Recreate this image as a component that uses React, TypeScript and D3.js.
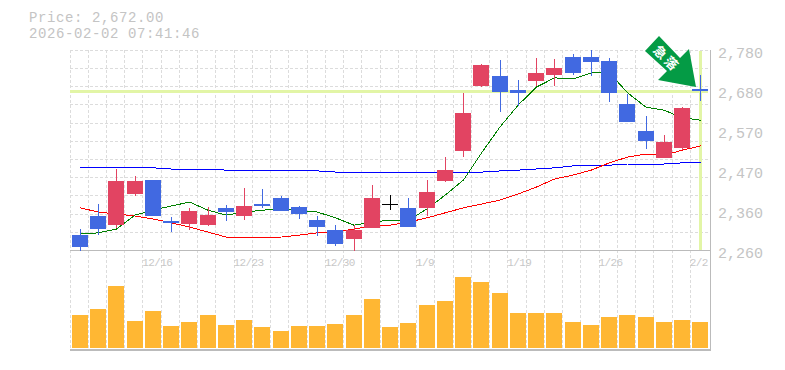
import React from "react";
import * as d3 from "d3";

const W = 785, H = 370;
const dateTicks: [number, string][] = [[4, "12/16"], [9, "12/23"], [14, "12/30"], [19, "1/9"], [24, "1/19"], [29, "1/26"], [34, "2/2"]];
const priceTicks = [2780, 2676, 2572, 2468, 2364, 2260];
const opens = [2296,2346,2322,2403,2439,2333,2325,2322,2367,2346,2377,2393,2369,2335,2309,2286,2315,2378,2367,2367,2437,2515,2684,2710,2673,2697,2712,2759,2759,2749,2637,2567,2497,2523,2675];
const closes = [2265,2312,2437,2437,2346,2328,2359,2348,2356,2372,2372,2359,2351,2317,2273,2309,2393,2378,2317,2408,2465,2614,2738,2668,2666,2718,2731,2718,2746,2666,2590,2541,2538,2627,2670];
const highs = [2312,2377,2468,2450,2439,2343,2367,2369,2374,2419,2416,2398,2372,2346,2322,2322,2426,2400,2393,2439,2499,2666,2741,2751,2699,2757,2754,2767,2777,2757,2663,2606,2556,2629,2712];
const lows = [2255,2296,2315,2398,2346,2304,2309,2320,2333,2335,2367,2359,2338,2294,2268,2255,2315,2361,2317,2346,2434,2499,2681,2616,2632,2684,2684,2712,2710,2642,2590,2520,2497,2517,2645];
const ma5 = [2299,2302,2312,2348,2361,2372,2382,2361,2348,2356,2361,2364,2361,2356,2341,2322,2330,2335,2335,2364,2400,2439,2510,2577,2634,2681,2705,2702,2718,2718,2666,2629,2621,2601,2595];
const ma25 = [2367,2356,2351,2346,2338,2328,2317,2304,2291,2289,2289,2291,2296,2302,2304,2312,2320,2322,2330,2341,2354,2367,2377,2387,2403,2421,2442,2452,2465,2484,2499,2507,2504,2517,2528];
const ma75 = [2473,2471,2471,2471,2471,2468,2468,2468,2465,2465,2465,2465,2463,2463,2460,2460,2458,2460,2458,2458,2458,2460,2460,2463,2465,2468,2471,2476,2478,2478,2481,2481,2481,2484,2484];
const volume = [33,39,62,27,37,22,26,33,23,28,21,17,22,22,24,33,49,21,25,43,47,71,66,55,35,35,35,26,23,31,33,31,26,28,26];

const x = d3.scaleLinear().domain([0, 35]).range([71, 709.75]);
const y = d3.scaleLinear().domain([2260, 2780]).range([249, 49]);
const vol = d3.scaleLinear().domain([0, 71]).range([348, 277]);
const line = d3.line<number>().x((_, i) => x(i + 0.5)).y((d) => y(d));
const barLeft = (i: number) => Math.round(x(i + 0.5) - 8.135);
const fmt = d3.format(",");
const BLUE = "#4169e1", RED = "#e24462";
const mono = "'Liberation Mono', monospace";

export default function App() {
  const vGrid = d3.range(0, 35).map((i) => Math.max(70, Math.floor(x(i) - 1.25 + 0.001)) + 0.5);
  const hGrid = d3.range(0, 11).map((i) => Math.floor(50.2 + i * 18.2) + 0.5);
  return (
    <svg width={W} height={H} style={{ position: "absolute", left: 0, top: 0, background: "#fff" }}>
      <g stroke="#dcdcdc" strokeDasharray="3 2" shapeRendering="crispEdges">
        {vGrid.map((v, i) => <line key={i} x1={v} x2={v} y1={50} y2={348} />)}
        {hGrid.map((v, i) => <line key={i} x1={70} x2={710} y1={v} y2={v} />)}
      </g>
      <g fill="#e2f5a6" shapeRendering="crispEdges">
        <rect x={70} y={90} width={638} height={3} />
        <rect x={699} y={51} width={3} height={199} />
      </g>
      <g stroke="#bbb" strokeWidth={1} shapeRendering="crispEdges">
        <line x1={70} x2={711} y1={250.5} y2={250.5} />
        <line x1={70} x2={711} y1={349.5} y2={349.5} strokeWidth={2} />
        <line x1={710.5} x2={710.5} y1={50} y2={350} />
      </g>
      {volume.map((v, i) => (
        <rect key={i} x={barLeft(i)} y={vol(v)} width={16} height={348 - vol(v)} fill="#ffb733" shapeRendering="crispEdges" />
      ))}
      <g fill="none" shapeRendering="crispEdges" strokeWidth={1}>
        <path d={line(ma75) || ""} stroke="#0000ff" />
        <path d={line(ma25) || ""} stroke="#ff0000" />
        <path d={line(ma5) || ""} stroke="#008000" />
      </g>
      {opens.map((o, i) => {
        const c = closes[i];
        const color = c > o ? RED : c < o ? BLUE : "#000";
        const left = barLeft(i);
        const t = y(Math.max(o, c));
        const b = y(Math.min(o, c));
        return (
          <g key={i} shapeRendering="crispEdges" fill={color}>
            <rect x={left + 8} y={y(highs[i])} width={1} height={y(lows[i]) - y(highs[i])} />
            <rect x={left} y={t} width={16} height={Math.max(1, b - t)} />
          </g>
        );
      })}
      <path d="M645 51 L659 36 L680 58 L689 49 L696 87 L658 80 L667 71 Z" fill="#049b45" />
      <g fontFamily="'Noto Sans CJK JP'" fontWeight={700} fontSize={13} fill="#fff" textAnchor="middle">
        <text x={660} y={57} transform="rotate(45 660 52.5)">急</text>
        <text x={671} y={68} transform="rotate(45 671 63.5)">落</text>
      </g>
      <g fontFamily={mono} fontSize={14} letterSpacing={0.6} fill="#c4c4c4">
        <text x={29} y={22}>Price: 2,672.00</text>
        <text x={29} y={38}>2026-02-02 07:41:46</text>
      </g>
      <g fontFamily={mono} fontSize={15} fill="#c4c4c4">
        {priceTicks.map((p) => (
          <text key={p} x={718} y={y(p) + 9}>{fmt(Math.round(p / 10) * 10)}</text>
        ))}
      </g>
      <g fontFamily={mono} fontSize={11} letterSpacing={-0.6} fill="#c8c8c8">
        {dateTicks.map(([d, s]) => <text key={s} x={x(d + 0.5) - 11} y={266}>{s}</text>)}
      </g>
    </svg>
  );
}
